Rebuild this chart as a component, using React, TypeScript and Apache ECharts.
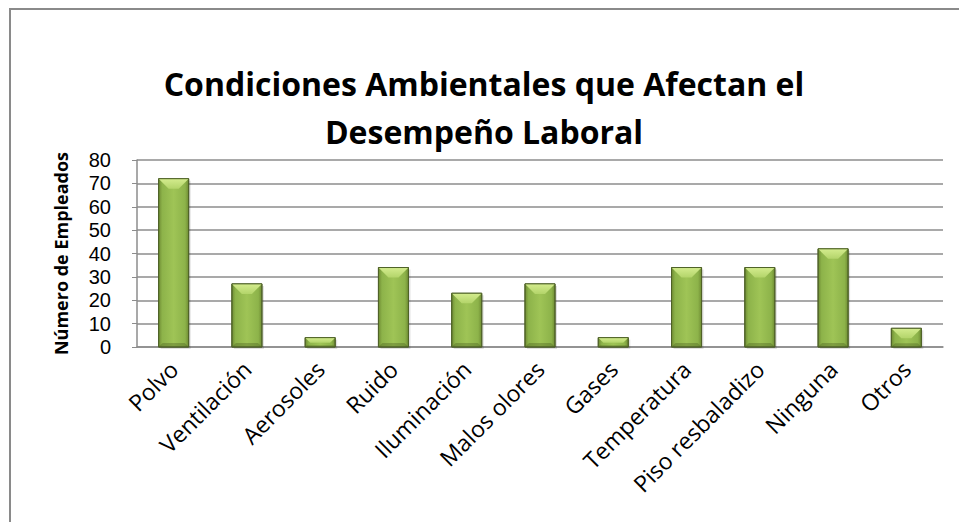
import React, { useEffect, useRef } from "react";
import * as echarts from "echarts";

const categories = [
  "Polvo",
  "Ventilación",
  "Aerosoles",
  "Ruido",
  "Iluminación",
  "Malos olores",
  "Gases",
  "Temperatura",
  "Piso resbaladizo",
  "Ninguna",
  "Otros",
];
const values = [72, 27, 4, 34, 23, 27, 4, 34, 34, 42, 8];
const yTicks = { min: 0, max: 80, interval: 10 };
const titleText = "Condiciones Ambientales que Afectan el\nDesempeño Laboral";
const yAxisName = "Número de Empleados";

const FONT = "'Open Sans', 'Noto Sans', sans-serif";
const NUM_FONT = "'Liberation Sans', Arial, sans-serif";

export default function App() {
  const ref = useRef<HTMLDivElement>(null);
  useEffect(() => {
    if (!ref.current) return;
    const chart = echarts.init(ref.current, null, { renderer: "svg" });
    const data = values.map((v, i) => [i, v]);
    chart.setOption({
      animation: false,
      backgroundColor: "#ffffff",
      title: {
        text: titleText,
        left: 479,
        textAlign: "center",
        top: 54,
        textStyle: {
          fontFamily: FONT,
          fontWeight: "bold",
          fontSize: 32,
          lineHeight: 48,
          color: "#000",
        },
      },
      graphic: [
        {
          type: "rect",
          shape: { x: 10, y: 9, width: 960, height: 530 },
          style: { fill: "none", stroke: "#8a8a8a", lineWidth: 2 },
          silent: true,
        },
      ],
      grid: { left: 137, right: 16, top: 160, bottom: 175 },
      xAxis: {
        type: "category",
        data: categories,
        axisLine: { show: true, lineStyle: { color: "#8c8c8c", width: 1.5 } },
        axisTick: { show: false },
        axisLabel: {
          rotate: 45,
          interval: 0,
          margin: 18,
          color: "#000",
          fontFamily: FONT,
          fontSize: 23,
        },
      },
      yAxis: {
        type: "value",
        min: yTicks.min,
        max: yTicks.max,
        interval: yTicks.interval,
        name: yAxisName,
        nameLocation: "middle",
        nameGap: 67,
        nameTextStyle: {
          fontFamily: FONT,
          fontWeight: "bold",
          fontSize: 18,
          color: "#000",
        },
        axisLine: { show: true, lineStyle: { color: "#8c8c8c", width: 1.5 } },
        axisTick: { show: true, length: 5, lineStyle: { color: "#8c8c8c" } },
        axisLabel: {
          color: "#000",
          fontFamily: NUM_FONT,
          fontSize: 20,
          lineHeight: 20,
          margin: 26,
        },
        splitLine: { lineStyle: { color: "#8c8c8c", width: 1.5 } },
      },
      series: [
        {
          type: "custom",
          data,
          encode: { x: 0, y: 1 },
          renderItem: (params: any, api: any) => {
            const idx = api.value(0);
            const val = api.value(1);
            const top = api.coord([idx, val]);
            const base = api.coord([idx, 0]);
            const band = api.size([1, 0])[0];
            const w = band * 0.41;
            const x = top[0] - w / 2;
            const y = top[1];
            const h = base[1] - top[1];
            const bev = Math.min(10, h * 0.55, w / 3);
            const bot = Math.min(4, h * 0.2);
            return {
              type: "group",
              children: [
                {
                  type: "rect",
                  shape: { x: x + 2, y: y + 2, width: w, height: h },
                  style: { fill: "rgba(0,0,0,0.12)" },
                },
                {
                  type: "rect",
                  shape: { x, y, width: w, height: h },
                  style: {
                    fill: new echarts.graphic.LinearGradient(0, 0, 1, 0, [
                      { offset: 0, color: "#6f8c33" },
                      { offset: 0.12, color: "#8db34a" },
                      { offset: 0.5, color: "#9fc456" },
                      { offset: 0.88, color: "#8db34a" },
                      { offset: 1, color: "#6f8c33" },
                    ]),
                    stroke: "#4f6228",
                    lineWidth: 1,
                  },
                },
                {
                  type: "polygon",
                  shape: {
                    points: [
                      [x, y],
                      [x + w, y],
                      [x + w - bev, y + bev],
                      [x + bev, y + bev],
                    ],
                  },
                  style: {
                    fill: new echarts.graphic.LinearGradient(0, 0, 0, 1, [
                      { offset: 0, color: "#d4ec8e" },
                      { offset: 1, color: "#b3d46a" },
                    ]),
                  },
                },
                {
                  type: "polygon",
                  shape: {
                    points: [
                      [x, y + h],
                      [x + w, y + h],
                      [x + w - bot, y + h - bot],
                      [x + bot, y + h - bot],
                    ],
                  },
                  style: { fill: "rgba(70,90,30,0.35)" },
                },
                {
                  type: "rect",
                  shape: { x, y, width: w, height: h },
                  style: { fill: "none", stroke: "#4f6228", lineWidth: 1 },
                },
              ],
            };
          },
        },
      ],
    });
    return () => chart.dispose();
  }, []);
  return (
    <div
      ref={ref}
      style={{ position: "fixed", left: 0, top: 0, width: 959, height: 522 }}
    />
  );
}
